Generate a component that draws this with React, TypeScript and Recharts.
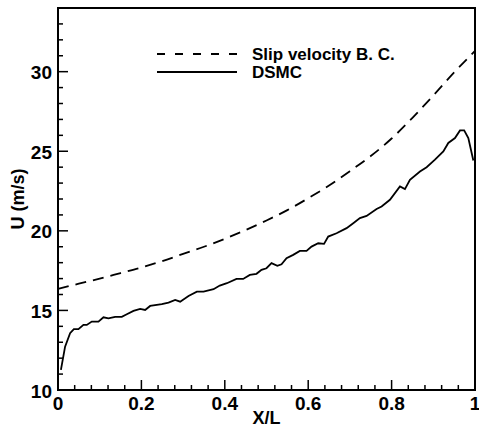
import { Legend, Line, LineChart, ReferenceArea, XAxis, YAxis } from "recharts"

// DSMC solution
const xDsmc = [
  0.007, 0.017, 0.029, 0.038, 0.049, 0.061, 0.069, 0.081, 0.097, 0.109, 0.121, 0.137, 0.153, 0.165, 0.181,
  0.197, 0.209, 0.221, 0.249, 0.265, 0.281, 0.293, 0.313, 0.333, 0.349, 0.373, 0.388, 0.405, 0.428, 0.444,
  0.46, 0.476, 0.488, 0.5, 0.512, 0.526, 0.536, 0.548, 0.564, 0.58, 0.596, 0.608, 0.624, 0.638, 0.648,
  0.668, 0.692, 0.708, 0.724, 0.74, 0.764, 0.776, 0.796, 0.82, 0.832, 0.844, 0.868, 0.884, 0.904, 0.924,
  0.936, 0.952, 0.964, 0.974, 0.984, 0.996,
]
const uDsmc = [
  11.26, 12.72, 13.57, 13.82, 13.82, 14.09, 14.09, 14.3, 14.3, 14.57, 14.5, 14.6, 14.6, 14.76, 14.97,
  15.1, 15.03, 15.28, 15.39, 15.49, 15.66, 15.55, 15.91, 16.18, 16.18, 16.33, 16.56, 16.71, 16.98, 16.98,
  17.23, 17.3, 17.55, 17.65, 17.97, 17.8, 17.9, 18.28, 18.49, 18.74, 18.74, 19.01, 19.22, 19.18, 19.64,
  19.85, 20.17, 20.48, 20.8, 20.94, 21.37, 21.53, 21.95, 22.79, 22.62, 23.2, 23.73, 24.0, 24.47, 24.99,
  25.52, 25.83, 26.31, 26.31, 25.83, 24.42,
]

// slip velocity boundary condition
const xSlip = [0, 0.05, 0.1, 0.15, 0.2, 0.25, 0.3, 0.35, 0.4, 0.45, 0.5, 0.55, 0.6, 0.65, 0.7, 0.75, 0.8, 0.85, 0.9, 0.95, 1]
const uSlip = [
  16.35, 16.68, 17.0, 17.35, 17.7, 18.1, 18.55, 19.0, 19.5, 20.05, 20.65, 21.3, 22.05, 22.85, 23.75, 24.7,
  25.8, 27.1, 28.5, 29.95, 31.3,
]

const xTicks = [
  0, 0.04, 0.08, 0.12, 0.16, 0.2, 0.24, 0.28, 0.32, 0.36, 0.4, 0.44, 0.48, 0.52, 0.56, 0.6, 0.64, 0.68,
  0.72, 0.76, 0.8, 0.84, 0.88, 0.92, 0.96, 1,
]
const xMajor = [0, 0.2, 0.4, 0.6, 0.8, 1]
const xLabels = ["0", "0.2", "0.4", "0.6", "0.8", "1"]
const yTicks = [10, 11, 12, 13, 14, 15, 16, 17, 18, 19, 20, 21, 22, 23, 24, 25, 26, 27, 28, 29, 30, 31, 32, 33, 34]
const yMajor = [10, 15, 20, 25, 30]
const yLabels = ["10", "15", "20", "25", "30"]

const dsmcData = xDsmc.map((x, i) => ({ x, u: uDsmc[i] }))
const slipData = xSlip.map((x, i) => ({ x, u: uSlip[i] }))

const FONT = "'Liberation Sans', Arial, Helvetica, sans-serif"

const majorIndex = (list: number[], v: number) => list.findIndex((m) => Math.abs(m - v) < 1e-6)

function XTick(props: any) {
  const { x, y, payload } = props
  const i = majorIndex(xMajor, payload.value)
  const len = i >= 0 ? 10 : 5
  return (
    <g>
      <line x1={x} x2={x} y1={y} y2={y - len} stroke="#000" strokeWidth={1.5} />
      {i >= 0 && (
        <text x={x} y={y + 13} textAnchor="middle" dominantBaseline="central" fontFamily={FONT} fontWeight="bold" fontSize={19} fill="#000">
          {xLabels[i]}
        </text>
      )}
    </g>
  )
}

function YTick(props: any) {
  const { x, y, payload } = props
  const i = majorIndex(yMajor, payload.value)
  const len = i >= 0 ? 10 : 5
  return (
    <g>
      <line x1={x} x2={x + len} y1={y} y2={y} stroke="#000" strokeWidth={1.5} />
      {i >= 0 && (
        <text x={x - 6} y={y + 1} textAnchor="end" dominantBaseline="central" fontFamily={FONT} fontWeight="bold" fontSize={19} fill="#000">
          {yLabels[i]}
        </text>
      )}
    </g>
  )
}

function renderLegend() {
  return (
    <svg width={280} height={44}>
      <line x1={7} x2={90} y1={14} y2={14} stroke="#000" strokeWidth={1.8} strokeDasharray="8 10" />
      <line x1={7} x2={87} y1={32} y2={32} stroke="#000" strokeWidth={1.8} />
      <text x={102} y={14} dominantBaseline="central" fontFamily={FONT} fontWeight="bold" fontSize={17}>
        Slip velocity B. C.
      </text>
      <text x={102} y={32} dominantBaseline="central" fontFamily={FONT} fontWeight="bold" fontSize={17}>
        DSMC
      </text>
    </svg>
  )
}

export default function App() {
  return (
    <div style={{ width: 479, height: 433, background: "#fff" }}>
      <style>{`body{margin:0}`}</style>
      <LineChart width={479} height={433} margin={{ top: 8, right: 4, bottom: 0, left: 8 }}>
        <XAxis
          dataKey="x"
          type="number"
          domain={[0, 1]}
          ticks={xTicks}
          interval={0}
          tick={<XTick />}
          tickLine={false}
          axisLine={false}
          tickSize={0}
          tickMargin={0}
          height={43}
          allowDuplicatedCategory={false}
          label={({ viewBox }: any) => (
            <text
              x={viewBox.x + viewBox.width / 2}
              y={viewBox.y + 28}
              textAnchor="middle"
              dominantBaseline="central"
              fontFamily={FONT}
              fontWeight="bold"
              fontSize={18}
            >
              X/L
            </text>
          )}
        />
        <YAxis
          type="number"
          domain={[10, 34]}
          ticks={yTicks}
          interval={0}
          tick={<YTick />}
          tickLine={false}
          axisLine={false}
          tickSize={0}
          tickMargin={0}
          width={50}
          label={({ viewBox }: any) => {
            const cx = viewBox.x + 10
            const cy = viewBox.y + viewBox.height / 2
            return (
              <text
                x={cx}
                y={cy}
                transform={`rotate(-90 ${cx} ${cy})`}
                textAnchor="middle"
                dominantBaseline="central"
                fontFamily={FONT}
                fontWeight="bold"
                fontSize={18}
              >
                U (m/s)
              </text>
            )
          }}
        />
        <ReferenceArea x1={0} x2={1} y1={10} y2={34} fill="none" stroke="#000" strokeWidth={2} ifOverflow="visible" />
        <Line
          data={slipData}
          dataKey="u"
          type="monotone"
          stroke="#000"
          strokeWidth={1.8}
          strokeDasharray="11 7"
          dot={false}
          isAnimationActive={false}
          name="Slip velocity B. C."
        />
        <Line
          data={dsmcData}
          dataKey="u"
          type="linear"
          stroke="#000"
          strokeWidth={1.8}
          dot={false}
          isAnimationActive={false}
          name="DSMC"
        />
        <Legend
          content={renderLegend}
          layout="vertical"
          align="center"
          verticalAlign="middle"
          wrapperStyle={{ left: 150, top: 40, width: 280, height: 44 }}
        />
      </LineChart>
    </div>
  )
}
